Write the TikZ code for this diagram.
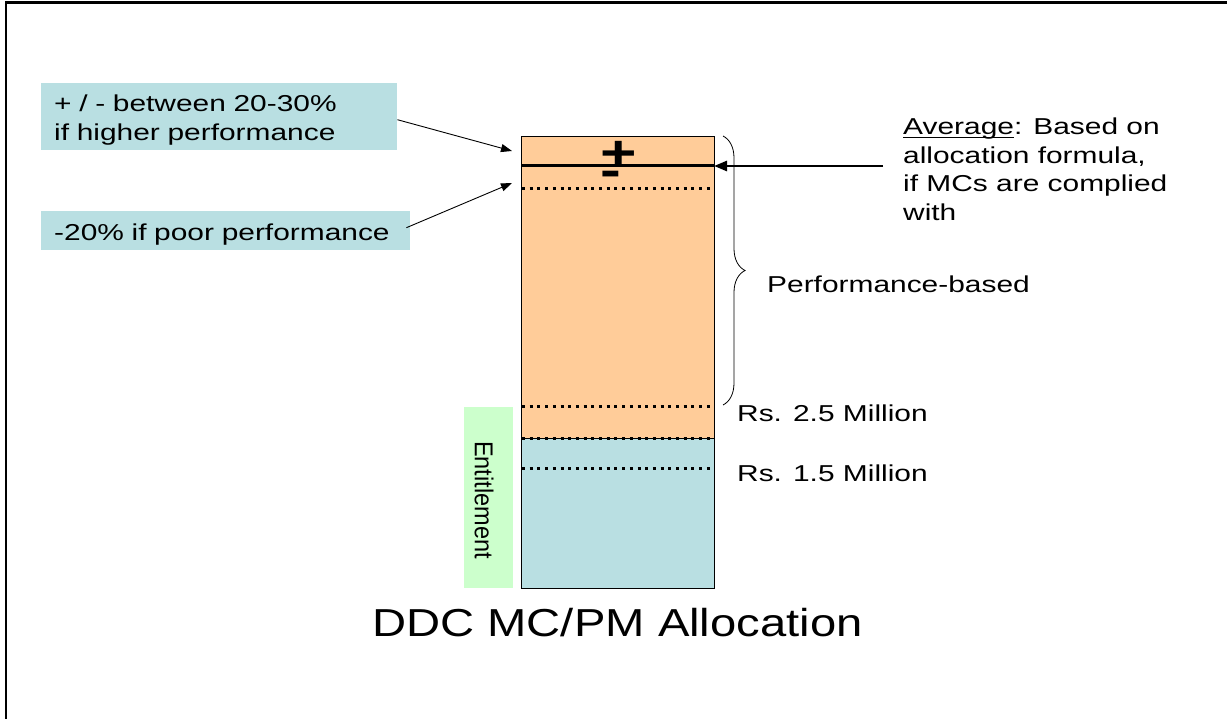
\documentclass[tikz,border=0pt]{standalone}
\usepackage{fontspec}
\setmainfont{Liberation Sans}
\newfontfamily\widefont{Liberation Sans}[FakeStretch=1.3]
\newfontfamily\titlefont{Liberation Sans}[FakeStretch=1.21]
\usetikzlibrary{arrows.meta,decorations.pathreplacing}
\definecolor{peach}{RGB}{255,204,153}
\definecolor{paleteal}{RGB}{185,223,226}
\definecolor{palegreen}{RGB}{204,255,204}
% underline set close to the baseline
\newcommand\lowul[1]{\leavevmode\setbox0\hbox{#1}\rlap{\rule[-3pt]{\wd0}{1.1pt}}\box0}
\tikzset{
  notebox/.style={fill=paleteal, inner xsep=13pt, inner ysep=0pt, anchor=north west,
    align=left, font=\widefont\fontsize{23}{28.5}\selectfont},
  sidetext/.style={inner sep=0pt, font=\widefont\fontsize{23}{28.5}\selectfont},
  barpart/.style={draw, line width=0.8pt, inner sep=0pt, anchor=north west, minimum width=193pt},
  dotline/.style={line width=3pt, dash pattern=on 3pt off 4.7pt},
  thinarrow/.style={-{Triangle[length=11pt,width=8pt]}, line width=0.9pt},
  thickarrow/.style={-{Triangle[length=13pt,width=10pt]}, line width=2.6pt},
  signtext/.style={inner sep=0pt, align=left, font=\widefont\fontsize{48}{17}\selectfont\bfseries},
}
\begin{document}
\begin{tikzpicture}[x=1pt,y=-1pt]
\useasboundingbox (0,0) rectangle (1227,719);
% outer frame (top and left edges)
\draw[line width=3pt] (5,2.5) -- (1227,2.5);
\draw[line width=1.2pt] (6,1) -- (6,719);

% stacked allocation bar
\node[barpart, fill=peach, minimum height=302pt] (perf) at (521,136) {};
\node[barpart, fill=paleteal, minimum height=150pt] (ent) at (521,438) {};

% average line with the plus / minus marks
\draw[line width=3pt] (521,166) -- (714,166);
\node[signtext, anchor=north west] (signs) at (600,141.5) {+\\-};

% dotted thresholds
\draw[dotline] (522,189) -- (714,189);
\draw[dotline] (522,407) -- (714,407);
\draw[dotline] (522,438) -- (714,438);
\draw[dotline] (522,468) -- (714,468);

% entitlement tag
\node[fill=palegreen, inner sep=0pt, anchor=north west, minimum width=49pt, minimum height=181pt] (enttag) at (464,407) {};
\node[rotate=-90, inner sep=0pt, font=\fontsize{23.5}{23.5}\selectfont] (entlabel) at (484,500) {\scalebox{1}[1.1]{Entitlement}};

% notes on the left
\node[notebox, text width=330pt, minimum height=67pt] (higher) at (41,83)
  {\rule{0pt}{23pt}+ / - between 20-30\%\\if higher performance};
\node[notebox, text width=343pt, minimum height=39pt] (poor) at (41,211)
  {\rule{0pt}{25pt}-20\% if poor performance};
\coordinate (tipA) at (512,151);
\coordinate (tipB) at (512,183);
\draw[thinarrow] ([yshift=-3pt]higher.east) -- (tipA);
\draw[thinarrow] ([xshift=-4pt,yshift=3pt]poor.east) -- (tipB);

% note on the right
\node[sidetext, anchor=north west, align=left] (avg) at (903,118)
  {\lowul{Average}: Based on\\allocation formula,\\if MCs are complied\\with};
\coordinate (avgfrom) at (883,166);
\draw[thickarrow] (avgfrom) -- (714,166);

% brace for the performance-based part
\draw[decorate, decoration={brace, amplitude=22pt, aspect=0.5}, line width=0.8pt] (723,136) -- (723,405);
\node[sidetext, anchor=base west] (perflabel) at (767,293) {Performance-based};

% threshold labels
\node[sidetext, anchor=base west] (rs25) at (737,421) {Rs. 2.5 Million};
\node[sidetext, anchor=base west] (rs15) at (737,481) {Rs. 1.5 Million};

% caption
\node[inner sep=0pt, anchor=base, font=\titlefont\fontsize{39}{39}\selectfont] (title) at (617.5,636) {DDC MC/PM Allocation};
\end{tikzpicture}
\end{document}
